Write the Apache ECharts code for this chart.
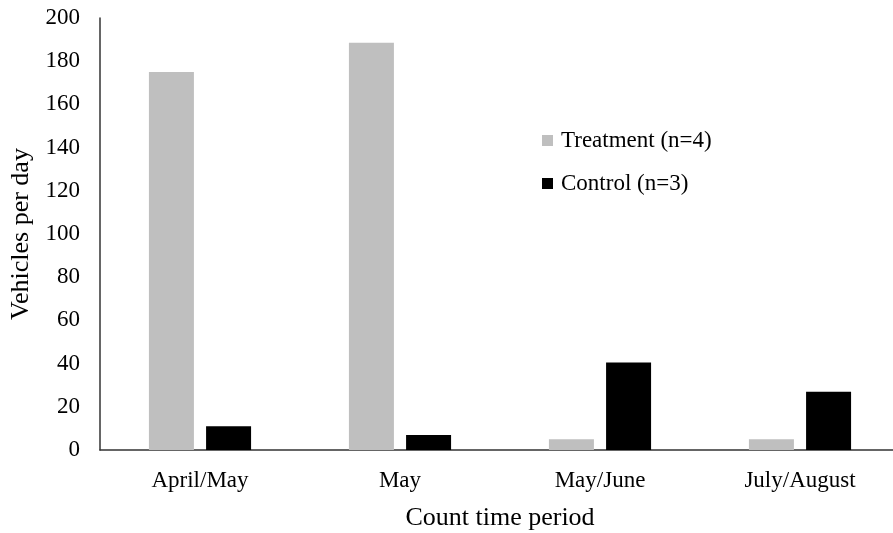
<!DOCTYPE html>
<html>
<head>
<meta charset="utf-8">
<script src="https://cdn.jsdelivr.net/npm/echarts@6/dist/echarts.min.js"></script>
<style>html,body{margin:0;padding:0;background:#fff}#c{width:893px;height:533px}</style>
</head>
<body>
<div id="c"></div>
<script>
const categories = ['April/May', 'May', 'May/June', 'July/August'];
const treatment = [175, 188.5, 5, 5];
const control = [11, 7, 40.5, 27];
const yTicks = [0, 20, 40, 60, 80, 100, 120, 140, 160, 180, 200];

const font = 'Liberation Serif';
const chart = echarts.init(document.getElementById('c'));
chart.setOption({
  animation: false,
  backgroundColor: '#fff',
  textStyle: { fontFamily: font, color: '#000' },
  grid: { left: 100, top: 18, width: 800, height: 432, containLabel: false, outerBoundsMode: 'none' },
  legend: {
    orient: 'vertical', left: 537, top: 124, itemGap: 20,
    itemWidth: 11, itemHeight: 11, icon: 'rect',
    textStyle: { fontFamily: font, fontSize: 23, color: '#000', padding: [0, 0, 0, 3] },
    data: ['Treatment (n=4)', 'Control (n=3)']
  },
  xAxis: {
    type: 'category', data: categories,
    name: 'Count time period', nameLocation: 'middle', nameGap: 55,
    nameTextStyle: { fontFamily: font, fontSize: 26, color: '#000' },
    axisLine: { lineStyle: { color: '#333', width: 1.5 } },
    axisTick: { show: false },
    axisLabel: { fontFamily: font, fontSize: 23, color: '#000', margin: 19 }
  },
  yAxis: {
    type: 'value', min: yTicks[0], max: yTicks[yTicks.length - 1], interval: 20,
    name: 'Vehicles per day', nameLocation: 'middle', nameGap: 63,
    nameTextStyle: { fontFamily: font, fontSize: 26, color: '#000' },
    axisLine: { show: true, lineStyle: { color: '#333', width: 1.5 } },
    axisTick: { show: false },
    splitLine: { show: false },
    axisLabel: { fontFamily: font, fontSize: 23, color: '#000', margin: 20 }
  },
  series: [
    { name: 'Treatment (n=4)', type: 'bar', data: treatment, barWidth: 45, barGap: '27%',
      itemStyle: { color: '#bfbfbf' } },
    { name: 'Control (n=3)', type: 'bar', data: control, barWidth: 45,
      itemStyle: { color: '#000' } }
  ]
});
</script>
</body>
</html>
